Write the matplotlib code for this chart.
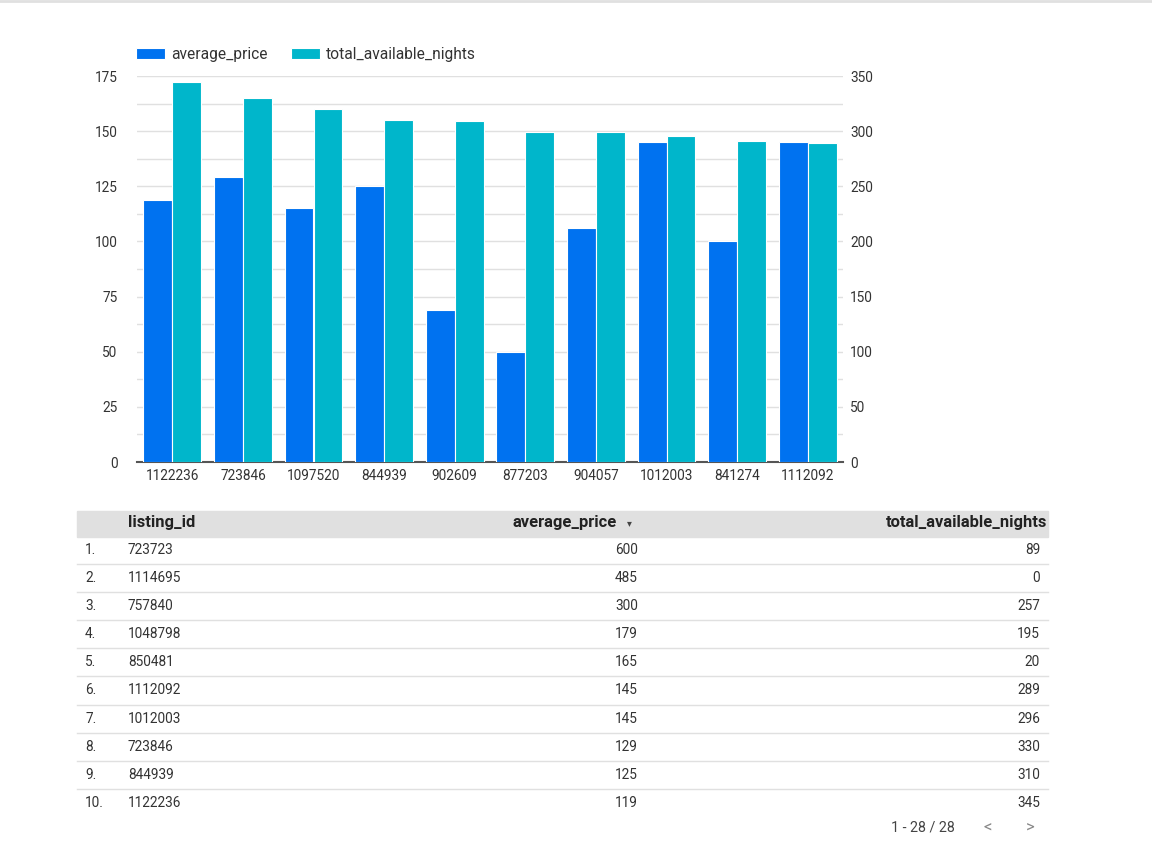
import matplotlib
matplotlib.use("Agg")
import numpy as np
from matplotlib import pyplot as plt
from matplotlib.patches import Rectangle

plt.rcParams['font.family'] = ['Roboto', 'DejaVu Sans']

# chart data
chart_ids = ["1122236", "723846", "1097520", "844939", "902609",
             "877203", "904057", "1012003", "841274", "1112092"]
chart_price = [119, 129, 115, 125, 69, 50, 106, 145, 100, 145]
chart_nights = [345, 330, 320, 310, 309, 299, 299, 296, 291, 289]

# table data
table_rank = ["1.", "2.", "3.", "4.", "5.", "6.", "7.", "8.", "9.", "10."]
table_ids = ["723723", "1114695", "757840", "1048798", "850481",
             "1112092", "1012003", "723846", "844939", "1122236"]
table_price = [600, 485, 300, 179, 165, 145, 145, 129, 125, 119]
table_nights = [89, 0, 257, 195, 20, 289, 296, 330, 310, 345]
headers = ["listing_id", "average_price", "total_available_nights"]

blue = "#0072f0"
teal = "#00b6cb"
grid = "#e0e0e0"
txt = "#333333"
fs = 9.8

W, H = 1152, 850
fig = plt.figure(figsize=(W / 100, H / 100), dpi=100)

# ---- bar chart ----
ax = fig.add_axes([137 / W, 1 - 462 / H, 706 / W, 386 / H])
ax2 = ax.twinx()
x = np.arange(len(chart_ids))
w = 0.41
ax.bar(x - w / 2, chart_price, w, color=blue, edgecolor="white", linewidth=0.8,
       label="average_price", zorder=3)
ax2.bar(x + w / 2, chart_nights, w, color=teal, edgecolor="white", linewidth=0.8,
        label="total_available_nights", zorder=3)

ax.set_xlim(-0.5, len(chart_ids) - 0.5)
ax.set_ylim(0, 175)
ax2.set_ylim(0, 350)
ax.set_yticks(np.arange(0, 176, 25))
ax.set_yticks(np.arange(0, 176, 12.5), minor=True)
ax2.set_yticks(np.arange(0, 351, 50))
ax.grid(axis="y", which="both", color=grid, linewidth=1, zorder=0)
ax.set_axisbelow(True)
ax.set_xticks(x)
ax.set_xticklabels(chart_ids)

for a in (ax, ax2):
    for s in a.spines.values():
        s.set_visible(False)
    a.tick_params(length=0, labelsize=fs, labelcolor=txt, which="both")
ax.spines["bottom"].set_visible(True)
ax.spines["bottom"].set_color("#555555")
ax.spines["bottom"].set_linewidth(1.5)
ax.tick_params(axis="y", pad=14)
ax2.tick_params(axis="y", pad=5)
ax.tick_params(axis="x", pad=5)
ax2.set_zorder(ax.get_zorder() + 1)
ax2.patch.set_visible(False)

h1, l1 = ax.get_legend_handles_labels()
h2, l2 = ax2.get_legend_handles_labels()
fig.legend(h1 + h2, l1 + l2, loc="upper left", bbox_to_anchor=(122 / W, 1 - 33 / H),
           ncol=2, frameon=False, fontsize=11.2, handlelength=1.85, handleheight=0.75,
           columnspacing=1.5, handletextpad=0.4, labelcolor=txt)

# ---- table ----
tb = fig.add_axes([0, 0, 1, 1])
tb.set_xlim(0, W)
tb.set_ylim(H, 0)
tb.axis("off")
tb.patch.set_visible(False)

tb.axhline(0.8, color=grid, linewidth=2)
tb.add_patch(Rectangle((77, 511), 971, 26, color=grid, zorder=0))
hy = 522
hfs = 11.9
tb.text(128, hy, headers[0], ha="left", va="center", fontsize=hfs, weight="bold", color="#222222")
tb.text(617, hy, headers[1], ha="right", va="center", fontsize=hfs, weight="bold", color="#222222")
tb.text(629, hy + 1, "\u25be", ha="center", va="center", fontsize=7, color="#444444",
        family="DejaVu Sans")
tb.text(1047, hy, headers[2], ha="right", va="center", fontsize=hfs, weight="bold", color="#222222")

y0, dy = 549.5, 28.2
for i in range(len(table_ids)):
    y = y0 + i * dy
    tb.text(85, y, table_rank[i], ha="left", va="center", fontsize=fs, color=txt)
    tb.text(128, y, table_ids[i], ha="left", va="center", fontsize=fs, color=txt)
    tb.text(638, y, str(table_price[i]), ha="right", va="center", fontsize=fs, color=txt)
    tb.text(1040, y, str(table_nights[i]), ha="right", va="center", fontsize=fs, color=txt)
    if i < len(table_ids) - 1:
        tb.plot([77, 1048], [y + dy / 2, y + dy / 2], color=grid, linewidth=1)

tb.text(923, 828, "1 - 28 / 28", ha="center", va="center", fontsize=10.3, color="#444444")
tb.text(988, 828, "<", ha="center", va="center", fontsize=12, color="#888888")
tb.text(1030, 828, ">", ha="center", va="center", fontsize=12, color="#888888")

fig.savefig("out.png", dpi=100)
